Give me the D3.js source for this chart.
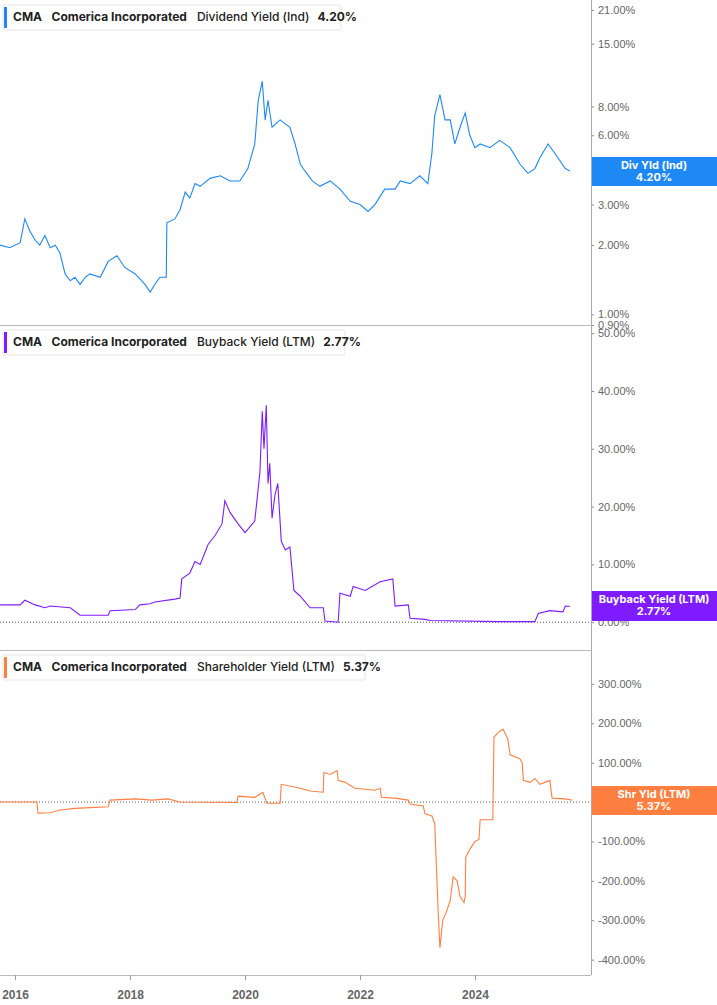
<!DOCTYPE html>
<html><head><meta charset="utf-8">
<script src="https://cdn.jsdelivr.net/npm/d3@7/dist/d3.min.js"></script>
<style>body{margin:0;background:#fff;font-family:Inter,"Noto Sans",sans-serif}</style>
</head><body><svg id="c" width="717" height="1005"></svg>
<script>
const yearTicks = [2016, 2018, 2020, 2022, 2024];
const divTicks = [0.9, 1, 2, 3, 6, 8, 15, 21];
const buyTicks = [0, 10, 20, 30, 40, 50];
const shrTicks = [-400, -300, -200, -100, 0, 100, 200, 300];

const divYield = [[2015.74,2.0],[2015.91,1.95],[2016.09,2.05],[2016.17,2.6],[2016.26,2.3],[2016.35,2.1],[2016.43,2.0],[2016.52,2.2],[2016.61,1.95],[2016.70,2.0],[2016.78,1.85],[2016.87,1.5],[2016.96,1.4],[2017.04,1.45],[2017.13,1.35],[2017.22,1.45],[2017.30,1.5],[2017.48,1.45],[2017.62,1.7],[2017.77,1.8],[2017.91,1.6],[2018.09,1.5],[2018.26,1.35],[2018.35,1.25],[2018.43,1.35],[2018.52,1.45],[2018.63,1.45],[2018.64,2.5],[2018.78,2.6],[2018.87,2.85],[2018.96,3.4],[2019.04,3.2],[2019.13,3.7],[2019.22,3.6],[2019.39,3.9],[2019.57,4.0],[2019.74,3.8],[2019.91,3.8],[2020.05,4.3],[2020.17,5.5],[2020.23,8.5],[2020.30,10.3],[2020.35,7.0],[2020.40,8.5],[2020.47,6.5],[2020.61,7.0],[2020.78,6.5],[2020.87,5.5],[2020.96,4.5],[2021.04,4.2],[2021.17,3.8],[2021.30,3.6],[2021.48,3.8],[2021.65,3.5],[2021.83,3.1],[2022.00,3.0],[2022.14,2.8],[2022.26,3.0],[2022.43,3.5],[2022.61,3.5],[2022.70,3.8],[2022.87,3.7],[2023.04,4.0],[2023.18,3.7],[2023.25,5.0],[2023.30,7.3],[2023.39,9.0],[2023.48,7.0],[2023.57,7.0],[2023.65,5.5],[2023.74,6.5],[2023.83,7.5],[2023.91,6.0],[2024.00,5.3],[2024.09,5.5],[2024.26,5.3],[2024.43,5.7],[2024.61,5.3],[2024.78,4.5],[2024.92,4.1],[2025.04,4.3],[2025.13,4.8],[2025.27,5.5],[2025.39,5.0],[2025.57,4.3],[2025.65,4.2]];

const buyback = [[2015.74,3.0],[2016.09,3.0],[2016.17,3.8],[2016.35,3.0],[2016.52,2.5],[2016.61,2.8],[2016.96,2.5],[2017.13,1.2],[2017.62,1.2],[2017.65,2.0],[2018.09,2.2],[2018.17,3.0],[2018.35,3.2],[2018.43,3.5],[2018.78,4.0],[2018.87,4.2],[2018.90,7.5],[2019.04,8.5],[2019.13,10.5],[2019.22,10.0],[2019.36,13.5],[2019.48,15.0],[2019.60,17.0],[2019.65,21.0],[2019.74,19.0],[2019.88,17.0],[2020.00,15.5],[2020.17,17.5],[2020.26,26],[2020.30,36.5],[2020.33,30],[2020.37,37.5],[2020.40,24],[2020.43,27.5],[2020.47,18],[2020.52,22],[2020.57,24],[2020.63,14],[2020.70,12.5],[2020.78,13],[2020.85,5.5],[2020.96,4.5],[2021.13,2.5],[2021.36,2.5],[2021.39,0.2],[2021.62,0],[2021.65,5.0],[2021.83,4.5],[2021.88,6.2],[2022.09,5.5],[2022.35,7.0],[2022.57,7.5],[2022.61,2.8],[2022.84,3.0],[2022.87,0.7],[2023.13,0.5],[2023.22,0.3],[2024.43,0.1],[2025.04,0.1],[2025.10,1.5],[2025.30,2.0],[2025.53,1.8],[2025.57,2.8],[2025.65,2.77]];

const shareholder = [[2015.74,0],[2016.38,0],[2016.40,-28],[2016.61,-27],[2016.78,-20],[2017.04,-16],[2017.30,-14],[2017.62,-12],[2017.65,5],[2018.09,8],[2018.38,5],[2018.66,8],[2018.87,0],[2019.86,-1],[2019.88,15],[2020.17,12],[2020.31,25],[2020.38,-3],[2020.61,-3],[2020.63,45],[2020.96,35],[2021.13,28],[2021.36,25],[2021.37,75],[2021.48,70],[2021.60,80],[2021.62,55],[2021.74,50],[2021.91,35],[2022.26,30],[2022.35,35],[2022.37,12],[2022.61,10],[2022.84,5],[2022.87,-5],[2023.10,-10],[2023.13,-30],[2023.25,-35],[2023.30,-55],[2023.36,-280],[2023.39,-370],[2023.44,-300],[2023.50,-280],[2023.57,-250],[2023.62,-190],[2023.69,-200],[2023.74,-240],[2023.81,-255],[2023.83,-240],[2023.84,-140],[2023.91,-120],[2024.00,-100],[2024.07,-95],[2024.09,-45],[2024.31,-45],[2024.33,165],[2024.43,180],[2024.49,185],[2024.57,160],[2024.61,120],[2024.78,110],[2024.82,100],[2024.84,55],[2024.96,50],[2025.04,60],[2025.13,45],[2025.30,55],[2025.34,10],[2025.57,8],[2025.69,5]];

const toDate = y => { const yr = Math.floor(y); const s = new Date(yr,0,1), e = new Date(yr+1,0,1); return new Date(+s + (y-yr)*(e-s)); };
const svg = d3.select("#c");
const W = 591;
const x = d3.scaleTime().domain([toDate(2015.739), toDate(2026.017)]).range([0, W]);
const grey = "#666";

const panels = [
  {top:0, bot:325, data:divYield, color:"#1e88f5", y:d3.scaleLog().domain([0.9, 23.2]).range([325,0]), ticks:divTicks,
   legend:["CMA","Comerica Incorporated","Dividend Yield (Ind)","4.20%"], tag:["Div Yld (Ind)","4.20%"], tagY:[157,186], zero:false},
  {top:325, bot:650, data:buyback, color:"#7f1cff", y:d3.scaleLinear().domain([-4.8, 51.4]).range([650,325]), ticks:buyTicks,
   legend:["CMA","Comerica Incorporated","Buyback Yield (LTM)","2.77%"], tag:["Buyback Yield (LTM)","2.77%"], tagY:[591,621], zero:true},
  {top:650, bot:975, data:shareholder, color:"#ff7f41", y:d3.scaleLinear().domain([-439, 386]).range([975,650]), ticks:shrTicks,
   legend:["CMA","Comerica Incorporated","Shareholder Yield (LTM)","5.37%"], tag:["Shr Yld (LTM)","5.37%"], tagY:[786,815], zero:true}
];

panels.forEach(p => {
  svg.append("line").attr("x1",0).attr("x2",W).attr("y1",p.bot+0.5).attr("y2",p.bot+0.5).attr("stroke","#bbb");
  const g = svg.append("g").attr("transform",`translate(${W},0)`)
    .call(d3.axisRight(p.y).tickValues(p.ticks).tickSize(3).tickFormat(d=>d.toFixed(2)+"%"));
  g.select(".domain").remove();
  g.selectAll("line").attr("stroke","#888");
  g.selectAll("text").attr("fill",grey).attr("font-size",11).attr("x",7);
  if (p.zero) svg.append("line").attr("x1",0).attr("x2",W).attr("y1",p.y(0)).attr("y2",p.y(0))
      .attr("stroke","#555").attr("stroke-dasharray","1,2");
  svg.append("path").datum(p.data).attr("fill","none").attr("stroke",p.color).attr("stroke-width",1.1)
    .attr("d", d3.line().x(d=>x(toDate(d[0]))).y(d=>p.y(d[1])));
  const lg = svg.append("g").attr("transform",`translate(3,${p.top+5})`);
  const t = lg.append("text").attr("x",10).attr("y",16).attr("font-size",12).attr("fill","#222");
  t.append("tspan").attr("font-weight",700).text(p.legend[0]);
  t.append("tspan").attr("dx",10).attr("font-weight",700).text(p.legend[1]);
  t.append("tspan").attr("dx",10).attr("font-weight",500).text(p.legend[2]);
  t.append("tspan").attr("dx",8).attr("font-weight",700).text(p.legend[3]);
  const w = t.node().getComputedTextLength() + 22;
  lg.insert("rect","text").attr("width",w).attr("height",25).attr("rx",2).attr("fill","#fff").attr("stroke","#e6e6e6");
  lg.insert("rect","text").attr("x",1).attr("y",2).attr("width",3).attr("height",21).attr("fill",p.color);
  svg.append("rect").attr("x",W).attr("y",p.tagY[0]).attr("width",717-W).attr("height",p.tagY[1]-p.tagY[0]).attr("fill",p.color);
  const tx = svg.append("text").attr("text-anchor","middle").attr("fill","#fff").attr("font-size",11).attr("font-weight",700);
  tx.append("tspan").attr("x",(W+717)/2).attr("y",p.tagY[0]+12).text(p.tag[0]);
  tx.append("tspan").attr("x",(W+717)/2).attr("y",p.tagY[0]+24).text(p.tag[1]);
});
svg.append("line").attr("x1",W+0.5).attr("x2",W+0.5).attr("y1",0).attr("y2",975).attr("stroke","#aaa");
const xa = svg.append("g").attr("transform","translate(0,975)")
  .call(d3.axisBottom(x).tickValues(yearTicks.map(y=>new Date(y,0,1))).tickSize(5).tickFormat(d3.timeFormat("%Y")));
xa.select(".domain").remove();
xa.selectAll("line").attr("stroke","#999");
xa.selectAll("text").attr("fill",grey).attr("font-size",12).attr("font-weight",700).attr("dy","1.3em");
</script></body></html>
